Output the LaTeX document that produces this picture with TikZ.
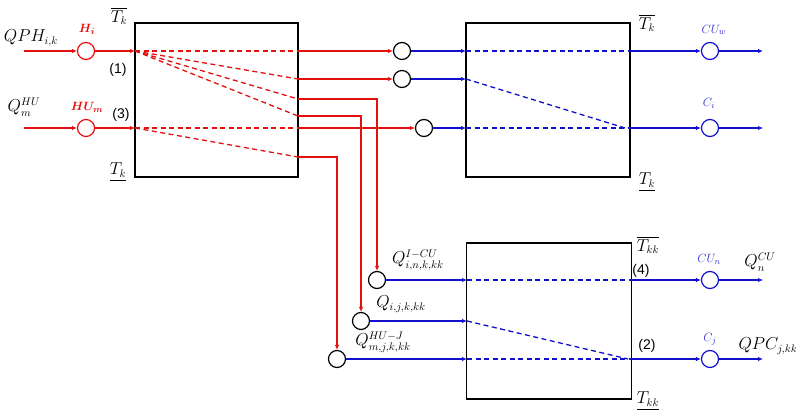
\documentclass[tikz,border=0pt]{standalone}
\usepackage{amsmath}
\usepackage{fontspec}
\setmainfont{Liberation Serif}
\newfontfamily\labfont{Liberation Sans}
\usetikzlibrary{arrows.meta}
\definecolor{rd}{RGB}{228,16,16}
\definecolor{bl}{RGB}{16,16,205}
\definecolor{lb}{RGB}{50,50,210}
\begin{document}
\begin{tikzpicture}[x=1pt,y=-1pt,
  boxn/.style={draw,line width=1.3pt,inner sep=0pt},
  circ/.style={circle,draw,minimum size=17pt,inner sep=0pt,line width=1.2pt},
  ar/.style={-{Latex[length=5pt,width=4.5pt]},line width=1.3pt},
  dsh/.style={dash pattern=on 5pt off 3.5pt,line width=1.3pt},
  mlab/.style={inner sep=0pt,font=\fontsize{16}{18}\selectfont},
  slab/.style={inner sep=0pt,font=\fontsize{13}{15}\selectfont},
  nlab/.style={inner sep=0pt,font=\labfont\fontsize{14}{16}\selectfont}]
\useasboundingbox (0,0) rectangle (796,417);

% boxes
\node[boxn,minimum width=163pt,minimum height=154pt] (b1) at (216.5,100) {};
\node[boxn,minimum width=164pt,minimum height=154pt] (b2) at (548,100) {};
\node[boxn,minimum width=165pt,minimum height=156pt] (b3) at (549,321) {};

% coordinates
\coordinate (s1) at (24,51);
\coordinate (s3) at (24,128);
\coordinate (in1) at (135,51);
\coordinate (in3) at (135,128);
\coordinate (o1) at (298,51);
\coordinate (o2) at (298,79);
\coordinate (o3) at (298,99);
\coordinate (o4) at (298,116);
\coordinate (o5) at (298,128);
\coordinate (o6) at (298,157);
\coordinate (p1) at (466,51);
\coordinate (p2) at (466,79);
\coordinate (p3) at (466,128);
\coordinate (q1) at (630,51);
\coordinate (q2) at (625,128);
\coordinate (q3) at (630,128);
\coordinate (e1) at (763,51);
\coordinate (e2) at (763,128);
\coordinate (r1) at (467,280);
\coordinate (r2) at (467,321);
\coordinate (r3) at (467,359);
\coordinate (t1) at (632,280);
\coordinate (t2) at (628,359);
\coordinate (t3) at (632,359);
\coordinate (f1) at (763,280);
\coordinate (f2) at (763,359);

% circles
\node[circ,rd] (hi) at (86,51) {};
\node[circ,rd] (hum) at (86,128) {};
\node[circ] (k1) at (402,51) {};
\node[circ] (k2) at (402,79) {};
\node[circ] (k3) at (424,128) {};
\node[circ] (k4) at (377,280) {};
\node[circ] (k5) at (361,321) {};
\node[circ] (k6) at (337,359) {};
\node[circ,bl] (cuw) at (710,51) {};
\node[circ,bl] (ci) at (710,128) {};
\node[circ,bl] (cun) at (710,280) {};
\node[circ,bl] (cj) at (710,359) {};

% red inputs
\draw[ar,rd] (s1) -- (hi);
\draw[ar,rd] (hi) -- (in1);
\draw[ar,rd] (s3) -- (hum);
\draw[ar,rd] (hum) -- (in3);

% red dashed in box 1
\draw[dsh,rd] (in1) -- (o1);
\draw[dsh,rd] (in1) -- (o2);
\draw[dsh,rd] (in1) -- (o3);
\draw[dsh,rd] (in1) -- (o4);
\draw[dsh,rd] (in3) -- (o5);
\draw[dsh,rd] (in3) -- (o6);

% red outputs of box 1
\draw[ar,rd] (o1) -- (k1);
\draw[ar,rd] (o2) -- (k2);
\draw[ar,rd] (o5) -- (k3);
\draw[ar,rd] (o3) -| (k4);
\draw[ar,rd] (o4) -| (k5);
\draw[ar,rd] (o6) -| (k6);

% blue to box 2
\draw[ar,bl] (k1) -- (p1);
\draw[ar,bl] (k2) -- (p2);
\draw[ar,bl] (k3) -- (p3);
\draw[dsh,bl] (p1) -- (q1);
\draw[dsh,bl] (p2) -- (q2);
\draw[dsh,bl] (p3) -- (q3);
\draw[ar,bl] (q1) -- (cuw);
\draw[ar,bl] (cuw) -- (e1);
\draw[ar,bl] (q3) -- (ci);
\draw[ar,bl] (ci) -- (e2);

% blue to box 3
\draw[ar,bl] (k4) -- (r1);
\draw[ar,bl] (k5) -- (r2);
\draw[ar,bl] (k6) -- (r3);
\draw[dsh,bl] (r1) -- (t1);
\draw[dsh,bl] (r2) -- (t2);
\draw[dsh,bl] (r3) -- (t3);
\draw[ar,bl] (t1) -- (cun);
\draw[ar,bl] (cun) -- (f1);
\draw[ar,bl] (t3) -- (cj);
\draw[ar,bl] (cj) -- (f2);

% labels left
\node[mlab] (lqph) at (31,38) {$QPH_{i,k}$};
\node[slab,rd] (lhi) at (87,29) {$\boldsymbol{H_i}$};
\node[mlab] (ltk1) at (119,16) {$\overline{T_k}$};
\node[nlab] (l1) at (118,70) {(1)};
\node[mlab] (lqhu) at (24,107) {$Q_m^{HU}$};
\node[slab,rd] (lhum) at (87,107) {$\boldsymbol{HU_m}$};
\node[nlab] (l3) at (121,115) {(3)};
\node[mlab] (ltk2) at (118,172) {$\underline{T_k}$};

% labels box 2
\node[mlab] (ltk3) at (647,23) {$\overline{T_k}$};
\node[mlab] (ltk4) at (647,182) {$\underline{T_k}$};
\node[slab,lb] (lcuw) at (714,30) {$CU_w$};
\node[slab,lb] (lci) at (709,103) {$C_i$};

% labels box 3
\node[mlab] (ltkk1) at (648,245) {$\overline{T_{kk}}$};
\node[mlab] (ltkk2) at (648,401) {$\underline{T_{kk}}$};
\node[nlab] (l4) at (641,271) {(4)};
\node[nlab] (l2) at (647,346) {(2)};
\node[slab,lb] (lcun) at (709,259) {$CU_n$};
\node[mlab] (lqcu) at (760,262) {$Q_n^{CU}$};
\node[slab,lb] (lcj) at (710,339) {$C_j$};
\node[mlab] (lqpc) at (768,346) {$QPC_{j,kk}$};

% labels of box 3 inputs
\node[mlab] (lq1) at (418,260) {$Q^{I-CU}_{i,n,k,kk}$};
\node[mlab] (lq2) at (401,304) {$Q_{i,j,k,kk}$};
\node[mlab] (lq3) at (383,342) {$Q^{HU-J}_{m,j,k,kk}$};
\end{tikzpicture}
\end{document}
